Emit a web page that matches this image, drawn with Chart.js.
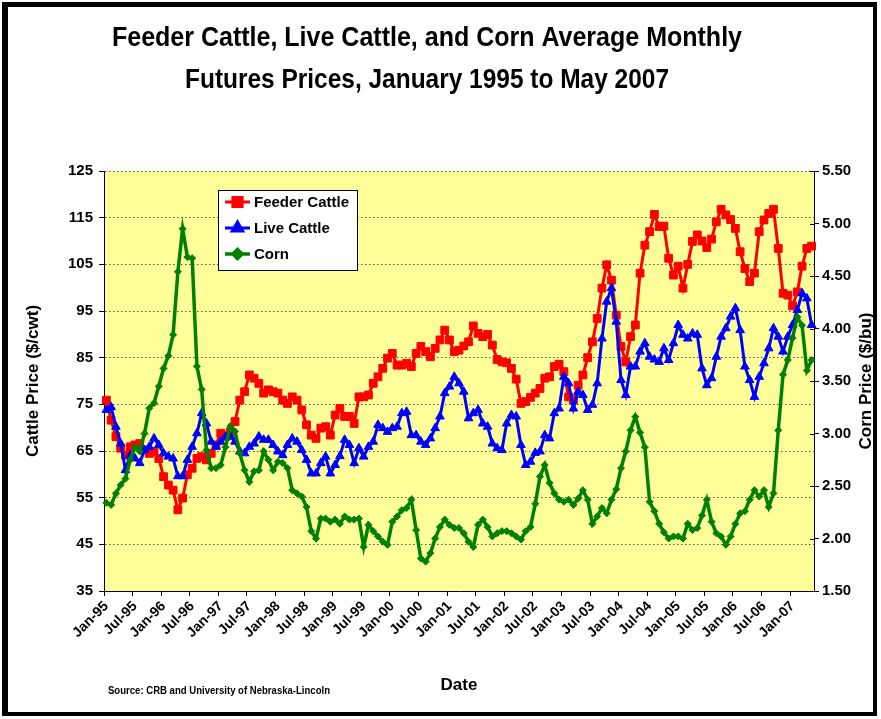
<!DOCTYPE html>
<html>
<head>
<meta charset="utf-8">
<script src="https://cdn.jsdelivr.net/npm/chart.js@4.4.1/dist/chart.umd.min.js"></script>
<style>
  html, body { margin: 0; padding: 0; background: #fff; }
  #wrap { width: 881px; height: 719px; }
</style>
</head>
<body>
<div id="wrap"><canvas id="myChart" width="881" height="719"></canvas></div>
<script>
const monthNames = ["Jan", "Feb", "Mar", "Apr", "May", "Jun", "Jul", "Aug", "Sep", "Oct", "Nov", "Dec"];
const years = ["95", "96", "97", "98", "99", "00", "01", "02", "03", "04", "05", "06", "07"];
const lastMonthCount = 5; // data runs Jan-95 .. May-07

const labels = [];
years.forEach((yr, y) => {
  const n = y === years.length - 1 ? lastMonthCount : 12;
  for (let m = 0; m < n; m++) labels.push(`${monthNames[m]}-${yr}`);
});

// $/cwt, one value per month
const feederCattle = [
  75.9, 71.6, 68.1, 65.6, 64.1, 65.9, 66.3, 66.6, 65.2, 64.5, 64.9, 63.4,
  59.5, 57.7, 56.6, 52.4, 54.9, 59.9, 61.3, 63.4, 63.8, 63.1, 64.5, 66.3,
  68.8, 68.1, 69.1, 71.3, 75.9, 77.7, 81.3, 80.6, 79.5, 77.4, 78.1, 77.7,
  77.4, 75.9, 75.2, 76.6, 75.9, 73.8, 70.6, 68.4, 67.7, 69.9, 70.2, 68.4,
  72.7, 74.1, 72.4, 72.4, 70.9, 76.6, 76.6, 77.0, 79.5, 80.9, 82.7, 84.9,
  85.9, 83.4, 83.4, 83.8, 83.1, 85.9, 87.4, 86.3, 85.2, 87.0, 88.8, 90.9,
  88.8, 86.3, 86.6, 87.5, 88.4, 91.8, 90.2, 89.5, 90.0, 87.7, 84.6, 84.1,
  83.9, 82.7, 80.4, 75.2, 75.6, 76.5, 77.4, 78.4, 80.6, 80.9, 83.1, 83.6,
  82.0, 76.6, 75.9, 79.1, 81.3, 85.0, 88.4, 93.4, 99.9, 104.9, 101.6, 94.1,
  87.4, 84.1, 89.5, 92.0, 103.1, 109.1, 112.0, 115.7, 113.1, 113.2, 106.3, 102.7,
  104.6, 99.9, 105.0, 109.9, 111.3, 110.0, 108.6, 110.4, 114.1, 116.8, 115.6, 114.6,
  112.7, 107.7, 104.1, 101.3, 103.1, 112.0, 114.5, 115.9, 116.8, 108.4, 98.8, 98.4,
  96.1, 99.1, 104.6, 108.4, 108.9
];

const liveCattle = [
  73.8, 74.4, 70.2, 66.6, 60.9, 64.1, 63.4, 62.4, 65.2, 65.9, 67.7, 66.3,
  64.5, 63.8, 63.4, 59.6, 59.6, 63.1, 65.9, 68.8, 73.1, 70.9, 67.0, 65.9,
  67.0, 68.1, 68.1, 67.0, 64.9, 64.5, 65.9, 66.6, 68.1, 67.4, 67.4, 66.3,
  64.9, 64.1, 66.3, 67.7, 67.0, 65.2, 63.1, 60.2, 60.2, 62.4, 63.8, 60.2,
  62.0, 63.9, 67.4, 66.3, 62.4, 65.6, 63.8, 65.9, 67.0, 70.6, 69.9, 69.1,
  69.9, 70.2, 73.1, 73.4, 68.4, 68.4, 67.0, 66.3, 67.7, 69.9, 72.4, 77.4,
  78.8, 80.9, 79.5, 77.7, 72.0, 73.1, 73.8, 70.9, 70.2, 66.6, 65.6, 65.2,
  70.9, 72.7, 72.4, 66.3, 62.0, 62.7, 64.6, 64.9, 68.4, 67.7, 73.1, 74.1,
  80.9, 79.5, 74.1, 77.7, 77.0, 73.8, 74.9, 79.5, 89.1, 97.0, 99.9, 92.7,
  80.2, 77.0, 83.1, 83.1, 86.3, 88.1, 85.2, 84.6, 84.1, 87.0, 84.5, 88.1,
  92.0, 89.9, 89.1, 90.2, 89.9, 82.7, 79.1, 80.6, 85.2, 89.5, 91.3, 93.8,
  95.6, 90.9, 83.1, 80.2, 76.6, 80.9, 83.8, 87.0, 91.3, 89.5, 86.3, 89.5,
  92.0, 95.2, 98.8, 97.7, 92.0
];

// $/bu
const corn = [
  2.34, 2.32, 2.43, 2.51, 2.57, 2.75, 2.87, 2.83, 3.00, 3.24, 3.29, 3.45,
  3.62, 3.74, 3.94, 4.54, 4.95, 4.68, 4.67, 3.64, 3.42, 2.84, 2.67, 2.67,
  2.70, 2.87, 3.07, 3.02, 2.81, 2.65, 2.54, 2.64, 2.65, 2.83, 2.75, 2.65,
  2.73, 2.72, 2.67, 2.46, 2.43, 2.40, 2.30, 2.07, 2.00, 2.19, 2.19, 2.16,
  2.18, 2.14, 2.21, 2.18, 2.18, 2.19, 1.92, 2.13, 2.07, 2.02, 1.97, 1.94,
  2.16, 2.21, 2.27, 2.29, 2.37, 2.08, 1.81, 1.78, 1.86, 2.00, 2.11, 2.18,
  2.13, 2.10, 2.10, 2.05, 1.97, 1.92, 2.13, 2.18, 2.11, 2.02, 2.05, 2.07,
  2.07, 2.05, 2.02, 1.99, 2.07, 2.11, 2.33, 2.59, 2.70, 2.53, 2.43, 2.37,
  2.35, 2.37, 2.32, 2.38, 2.46, 2.37, 2.14, 2.21, 2.29, 2.24, 2.37, 2.47,
  2.67, 2.83, 3.03, 3.16, 3.01, 2.87, 2.35, 2.26, 2.14, 2.06, 2.00, 2.02,
  2.02, 2.00, 2.14, 2.08, 2.10, 2.22, 2.37, 2.16, 2.05, 2.02, 1.94, 2.02,
  2.14, 2.24, 2.26, 2.37, 2.46, 2.40, 2.46, 2.30, 2.43, 3.03, 3.56, 3.70,
  3.91, 4.11, 4.03, 3.60, 3.70
];

const titleLines = [
  "Feeder Cattle, Live Cattle, and Corn Average Monthly",
  "Futures Prices, January 1995 to May 2007"
];
const sourceNote = "Source: CRB and University of Nebraska-Lincoln";
const boldFont = "'Liberation Sans', Arial, sans-serif";

const ctx = document.getElementById("myChart");

// draws text squeezed to a fixed width, like the condensed face in the original
function squeezedText(c, text, x, y, width) {
  const w = c.measureText(text).width;
  c.save();
  c.translate(x, y);
  c.scale(Math.min(1, width / w), 1);
  c.fillText(text, 0, 0);
  c.restore();
}

const backdrop = {
  id: "backdrop",
  beforeDraw(chart) {
    const { ctx, chartArea: a } = chart;
    ctx.save();
    ctx.fillStyle = "#fff";
    ctx.fillRect(0, 0, chart.width, chart.height);
    ctx.fillStyle = "#ffff99";
    ctx.fillRect(a.left, a.top, a.right - a.left, a.bottom - a.top);
    ctx.restore();
  },
};

const extras = {
  id: "extras",
  afterDraw(chart) {
    const { ctx, chartArea: a } = chart;
    ctx.save();
    ctx.fillStyle = "#000";

    // outer frame
    ctx.fillRect(2, 2, 6, 713);
    ctx.fillRect(2, 2, 875, 5);
    ctx.fillRect(873, 2, 4, 713);
    ctx.fillRect(2, 712, 875, 4);

    // inner half of the cross tick marks on the corn axis
    const r = chart.scales.y1;
    ctx.strokeStyle = "#000";
    ctx.lineWidth = 1;
    r.ticks.forEach((t) => {
      const y = Math.round(r.getPixelForValue(t.value)) + 0.5;
      ctx.beginPath();
      ctx.moveTo(a.right - 4, y);
      ctx.lineTo(a.right, y);
      ctx.stroke();
    });

    // title
    ctx.font = `bold 27px ${boldFont}`;
    ctx.textAlign = "center";
    ctx.textBaseline = "alphabetic";
    squeezedText(ctx, titleLines[0], 427, 46, 630);
    squeezedText(ctx, titleLines[1], 427, 88, 484);

    // right axis title, reading upward
    ctx.save();
    ctx.translate(866, (a.top + a.bottom) / 2);
    ctx.rotate(-Math.PI / 2);
    ctx.font = `bold 17px ${boldFont}`;
    ctx.textBaseline = "middle";
    ctx.fillText("Corn Price ($/bu)", 0, 0);
    ctx.restore();

    // source
    ctx.font = `bold 11px ${boldFont}`;
    ctx.textAlign = "left";
    squeezedText(ctx, sourceNote, 108, 694, 222);

    // legend box
    ctx.fillStyle = "#fff";
    ctx.fillRect(218.5, 190.5, 139, 80);
    ctx.strokeStyle = "#000";
    ctx.lineWidth = 1;
    ctx.strokeRect(218.5, 190.5, 139, 80);
    const rows = [202, 228, 254];
    chart.data.datasets.forEach((ds, i) => {
      const y = rows[i];
      ctx.strokeStyle = ds.borderColor;
      ctx.lineWidth = ds.borderWidth;
      ctx.beginPath();
      ctx.moveTo(225, y);
      ctx.lineTo(250, y);
      ctx.stroke();
      Chart.helpers.drawPoint(ctx, {
        pointStyle: ds.pointStyle,
        radius: ds.pointRadius + 1,
        borderWidth: 1,
        rotation: 0,
      }, 237.5, y);
      ctx.fillStyle = ds.borderColor;
      ctx.fill();
      ctx.fillStyle = "#000";
      ctx.font = `bold 15px ${boldFont}`;
      ctx.textAlign = "left";
      ctx.textBaseline = "middle";
      ctx.fillText(ds.label, 254, y + 1);
    });
    ctx.restore();
  },
};

new Chart(ctx, {
  type: "line",
  data: {
    labels,
    datasets: [
      {
        label: "Feeder Cattle",
        data: feederCattle,
        yAxisID: "y",
        borderColor: "#ff0000",
        backgroundColor: "#ff0000",
        borderWidth: 3,
        pointStyle: "rect",
        pointRadius: 5.5,
        pointBorderWidth: 1,
        order: 3,
      },
      {
        label: "Live Cattle",
        data: liveCattle,
        yAxisID: "y",
        borderColor: "#0000ff",
        backgroundColor: "#0000ff",
        borderWidth: 3,
        pointStyle: "triangle",
        pointRadius: 5,
        pointBorderWidth: 1,
        order: 2,
      },
      {
        label: "Corn",
        data: corn,
        yAxisID: "y1",
        borderColor: "#008000",
        backgroundColor: "#008000",
        borderWidth: 3.5,
        pointStyle: "rectRot",
        pointRadius: 3.5,
        pointBorderWidth: 1,
        order: 1,
      },
    ],
  },
  options: {
    responsive: false,
    animation: false,
    devicePixelRatio: 1,
    layout: { padding: { top: 171, left: 0, right: 0, bottom: 0 } },
    plugins: {
      legend: { display: false },
      tooltip: { enabled: false },
    },
    elements: { line: { tension: 0 } },
    scales: {
      x: {
        type: "category",
        offset: true,
        grid: {
          offset: true,
          drawOnChartArea: false,
          drawTicks: true,
          tickLength: 5,
          color: (c) => (c.index % 6 === 0 ? "#000" : "rgba(0,0,0,0)"),
        },
        border: { color: "#000", width: 1 },
        ticks: {
          autoSkip: false,
          minRotation: 45,
          maxRotation: 45,
          padding: 2,
          color: "#000",
          font: { family: boldFont, size: 14, weight: "bold" },
          callback: (v, i) => (i % 6 === 0 ? labels[i] : ""),
        },
        title: {
          display: true,
          text: "Date",
          color: "#000",
          font: { family: boldFont, size: 17, weight: "bold" },
          padding: { top: 0, bottom: 23 },
        },
        afterFit: (s) => { s.height = 128; },
      },
      y: {
        position: "left",
        min: 35,
        max: 125,
        ticks: {
          stepSize: 10,
          padding: 6,
          color: "#000",
          font: { family: boldFont, size: 15, weight: "bold" },
        },
        grid: {
          color: "#555",
          lineWidth: 1,
          tickLength: 5,
          tickColor: "#000",
          tickBorderDash: [],
        },
        border: { color: "#000", width: 1, dash: [1.5, 2.5] },
        title: {
          display: true,
          text: "Cattle Price ($/cwt)",
          color: "#000",
          font: { family: boldFont, size: 17, weight: "bold" },
          padding: { top: 23, bottom: 0 },
        },
        afterFit: (s) => { s.width = 104; },
      },
      y1: {
        position: "right",
        min: 1.5,
        max: 5.5,
        ticks: {
          stepSize: 0.5,
          padding: 3,
          color: "#000",
          font: { family: boldFont, size: 15, weight: "bold" },
          callback: (v) => v.toFixed(2),
        },
        grid: {
          drawOnChartArea: false,
          tickLength: 5,
          color: "#000",
        },
        border: { color: "#000", width: 1 },
        afterFit: (s) => { s.width = 67; },
      },
    },
  },
  plugins: [backdrop, extras],
});
</script>
</body>
</html>
